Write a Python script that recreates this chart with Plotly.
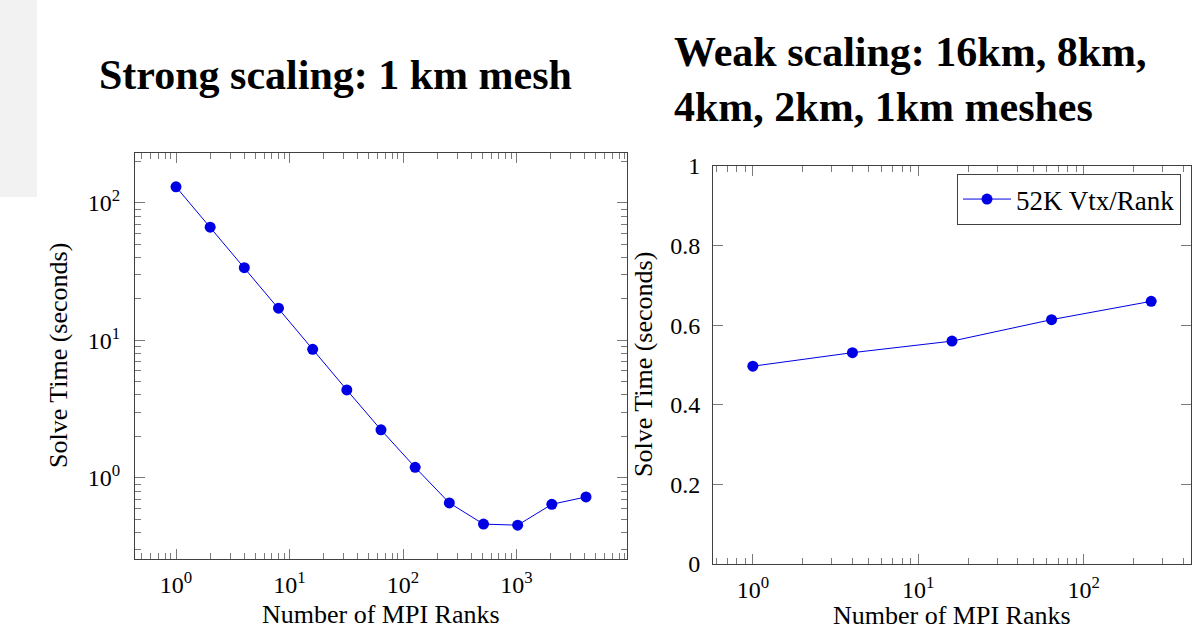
import numpy as np
import plotly.graph_objects as go

# ---------------- data ----------------
strong_ranks = [1, 2, 4, 8, 16, 32, 64, 128, 256, 512, 1024, 2048, 4096]
strong_time = [130.6, 66.4, 33.7, 17.1, 8.6, 4.35, 2.23, 1.19, 0.656, 0.46, 0.452, 0.641, 0.725]

weak_ranks = [1, 4, 16, 64, 256]
weak_time = [0.497, 0.531, 0.56, 0.614, 0.66]
weak_label = "52K Vtx/Rank"

strong_title = "Strong scaling: 1 km mesh"
weak_title = "Weak scaling: 16km, 8km,<br>4km, 2km, 1km meshes"
x_title = "Number of MPI Ranks"
y_title = "Solve Time (seconds)"

x_major_left = [1, 10, 100, 1000]
x_major_right = [1, 10, 100]
y_major_left = [1, 10, 100]
y_major_right = [0, 0.2, 0.4, 0.6, 0.8, 1]
y_text_right = ["0", "0.2", "0.4", "0.6", "0.8", "1"]

# ---------------- helpers ----------------
W, H = 1193, 631
FONT = "Liberation Serif"
BLUE = "rgb(0,0,228)"
LINE = "#404040"
TICKC = "#7a7a7a"
TICK_SIZE = 24
LABEL_SIZE = 26
LEGEND_SIZE = 27


def px(x):
    return x / W


def py(y):
    return 1 - y / H


def log_range(vals, frac=0.1):
    lo, hi = np.log10(min(vals)), np.log10(max(vals))
    pad = (hi - lo) * frac
    return [lo - pad, hi + pad]


def pow_text(vals):
    return ["10<sup>%d</sup>" % int(round(np.log10(v))) for v in vals]


def minor_log(rng):
    lo, hi = int(np.floor(rng[0])), int(np.ceil(rng[1]))
    out = []
    for e in range(lo, hi + 1):
        for m in range(2, 10):
            v = m * 10.0 ** e
            if rng[0] <= np.log10(v) <= rng[1]:
                out.append(v)
    return out


tickfont = dict(family=FONT, size=TICK_SIZE, color="black")

fig = go.Figure()
fig.add_trace(go.Scatter(
    x=strong_ranks, y=strong_time, mode="lines+markers",
    line=dict(color=BLUE, width=1), marker=dict(color=BLUE, size=11),
    showlegend=False, xaxis="x", yaxis="y"))
fig.add_trace(go.Scatter(
    x=weak_ranks, y=weak_time, mode="lines+markers", name=weak_label,
    line=dict(color=BLUE, width=1), marker=dict(color=BLUE, size=11),
    showlegend=True, xaxis="x2", yaxis="y2"))

xl_rng = log_range(strong_ranks)
yl_rng = log_range(strong_time)
xr_rng = log_range(weak_ranks)

common = dict(showline=True, linecolor=LINE, linewidth=1, mirror="allticks",
              ticks="inside", ticklen=10, tickcolor=TICKC, tickwidth=1,
              showgrid=False, zeroline=False, tickfont=tickfont, automargin=False)
minor_common = dict(tickmode="array", ticks="inside", ticklen=6, tickcolor=TICKC,
                    showgrid=False)

fig.update_layout(
    template="none",
    width=W, height=H, margin=dict(l=0, r=0, t=0, b=0, pad=0, autoexpand=False),
    autosize=False,
    paper_bgcolor="white", plot_bgcolor="white",
    font=dict(family=FONT, size=LABEL_SIZE, color="black"),
    xaxis=dict(type="log", domain=[px(135), px(627)], range=xl_rng, anchor="y",
               tickmode="array", tickvals=x_major_left, ticktext=pow_text(x_major_left),
               minor=dict(tickvals=minor_log(xl_rng), **minor_common),
               ticklabelstandoff=4, **common),
    yaxis=dict(type="log", domain=[py(559), py(153)], range=yl_rng, anchor="x",
               tickmode="array", tickvals=y_major_left, ticktext=pow_text(y_major_left),
               minor=dict(tickvals=minor_log(yl_rng), **minor_common),
               ticklabelstandoff=9, **common),
    xaxis2=dict(type="log", domain=[px(713), px(1191)], range=xr_rng, anchor="y2",
                tickmode="array", tickvals=x_major_right, ticktext=pow_text(x_major_right),
                minor=dict(tickvals=minor_log(xr_rng), **minor_common),
                ticklabelstandoff=4, **common),
    yaxis2=dict(domain=[py(564), py(166)], range=[0, 1], anchor="x2",
                tickmode="array", tickvals=y_major_right, ticktext=y_text_right,
                ticklabelstandoff=7, **common),
    legend=dict(x=px(1181), y=py(174), xanchor="right", yanchor="top",
                bordercolor=LINE, borderwidth=1, bgcolor="white",
                itemwidth=48,
                font=dict(family=FONT, size=LEGEND_SIZE, color="black")),
)

# grey strip at top-left
fig.add_shape(type="rect", xref="paper", yref="paper", x0=0, x1=px(37), y0=py(197), y1=1,
              fillcolor="#f2f2f2", line=dict(width=0), layer="below")

ann = []
ann.append(dict(text=strong_title, x=px(97), y=py(75), xanchor="left", yanchor="middle",
                font=dict(family=FONT, size=42, color="black", weight="bold")))
ann.append(dict(text=weak_title, x=px(672), y=py(80), xanchor="left", yanchor="middle",
                align="left",
                font=dict(family=FONT, size=42, color="black", weight="bold")))
for cx, cy in [(381, 614), (952, 615)]:
    ann.append(dict(text=x_title, x=px(cx), y=py(cy), xanchor="center", yanchor="middle",
                    font=dict(family=FONT, size=LABEL_SIZE, color="black")))
for cx, cy in [(59, 356), (643, 365)]:
    ann.append(dict(text=y_title, x=px(cx), y=py(cy), xanchor="center", yanchor="middle",
                    textangle=-90, font=dict(family=FONT, size=LABEL_SIZE, color="black")))
for a in ann:
    a.update(xref="paper", yref="paper", showarrow=False)
fig.update_layout(annotations=ann)

fix_pos = (
    "document.documentElement.style.margin='0';"
    "document.documentElement.style.overflow='hidden';"
    "document.body.style.margin='0';"
    "document.body.style.padding='0';"
    "document.body.style.overflow='hidden';"
    "var d=document.getElementById('{plot_id}');"
    "d.style.position='absolute';d.style.left='0px';d.style.top='0px';"
)
fig.write_html("out.html", post_script=fix_pos, config={"displayModeBar": False})
